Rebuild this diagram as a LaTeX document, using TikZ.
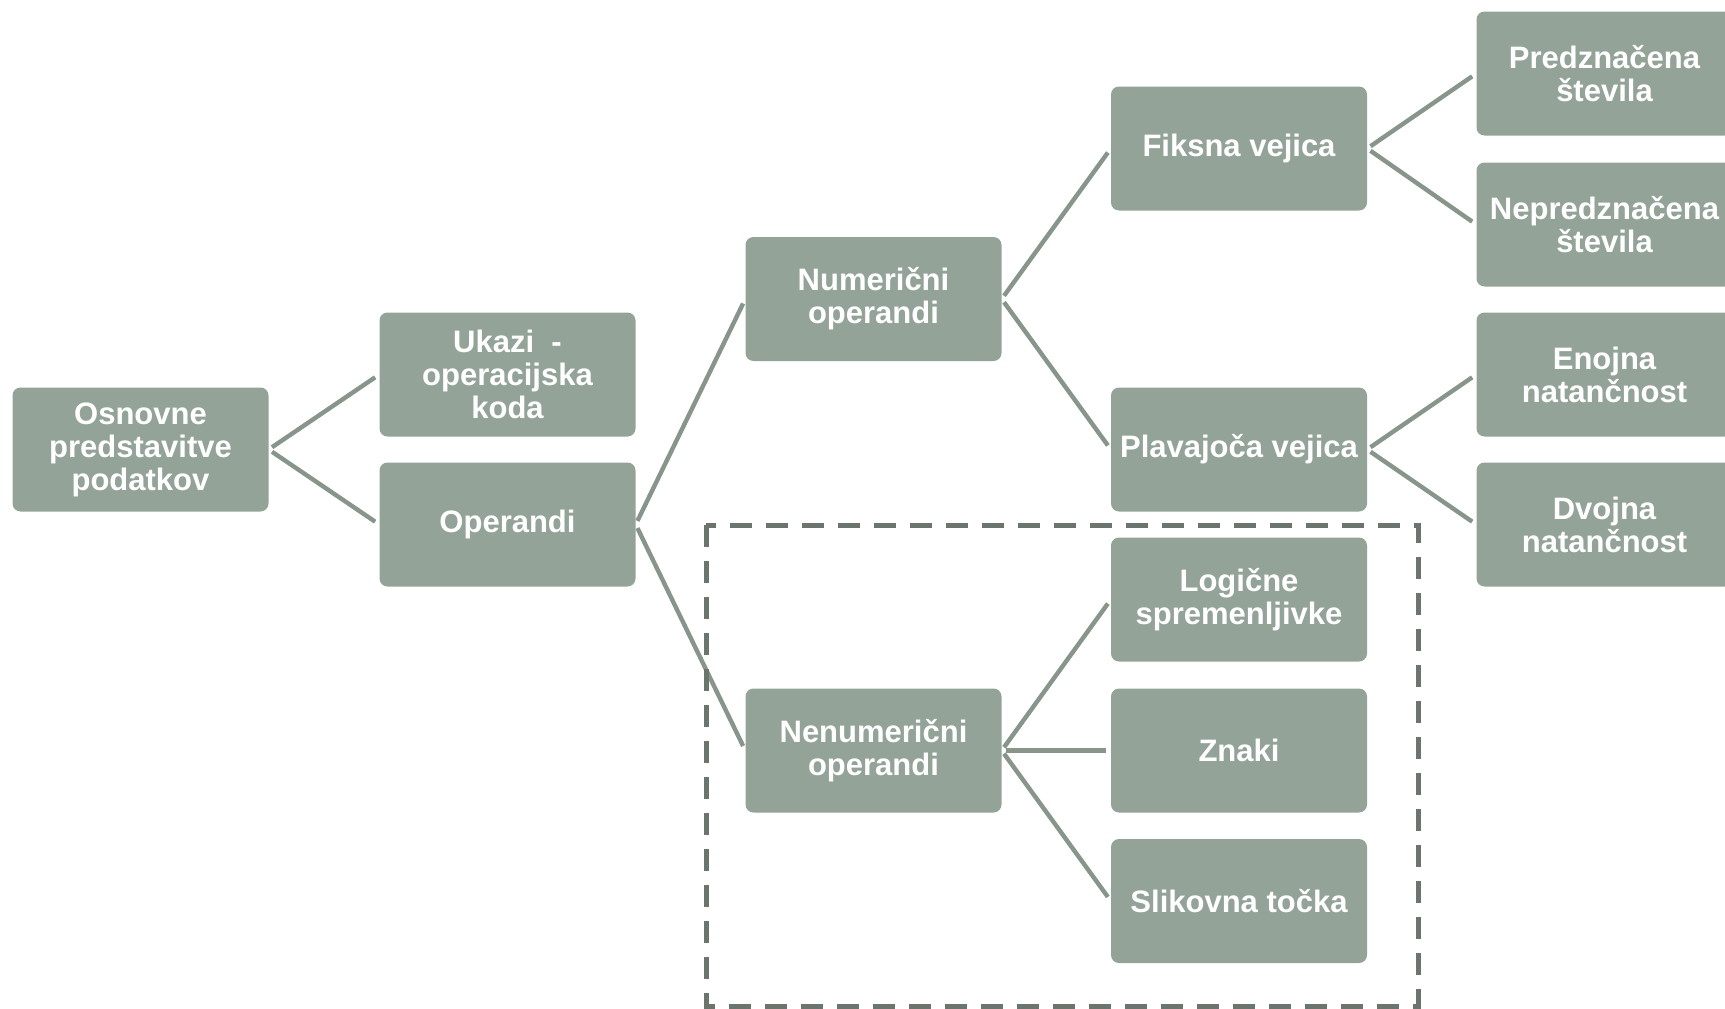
\documentclass[tikz,border=0pt]{standalone}
\usepackage{fontspec}
\setmainfont{Liberation Sans}
\begin{document}
\begin{tikzpicture}[x=1pt,y=-1pt,
  box/.style={draw=none, fill=boxfill, rounded corners=8pt, minimum width=256pt, minimum height=124pt,
    inner sep=0pt, align=center, text=white, font=\fontsize{31}{33}\selectfont\bfseries},
  conn/.style={draw=linec, line width=4.4pt, shorten <=4pt, shorten >=5pt},
  group/.style={draw=dashc, line width=5pt, dash pattern=on 22pt off 14pt}
]
\definecolor{boxfill}{HTML}{93A398}
\definecolor{linec}{HTML}{87958B}
\definecolor{dashc}{HTML}{6B756D}
\useasboundingbox (0,0) rectangle (1725,1009);
\clip (0,0) rectangle (1725,1009);
\node[box] (root) at (140.5,449.5) {Osnovne\\predstavitve\\podatkov};
\node[box] (ukazi) at (507.5,374.5) {Ukazi \ -\\operacijska\\koda};
\node[box] (oper) at (507.5,524.5) {Operandi};
\node[box] (num) at (873.5,299) {Numerični\\operandi};
\node[box] (nenum) at (873.5,750.5) {Nenumerični\\operandi};
\node[box] (fiks) at (1239,148.5) {Fiksna vejica};
\node[box] (plav) at (1239,449.5) {Plavajoča vejica};
\node[box] (log) at (1239,599.5) {Logične\\spremenljivke};
\node[box] (znaki) at (1239,750.5) {Znaki};
\node[box] (slik) at (1239,901) {Slikovna točka};
\node[box] (pred) at (1604.5,73.5) {Predznačena\\števila};
\node[box] (nepred) at (1604.5,224.5) {Nepredznačena\\števila};
\node[box] (enoj) at (1604.5,374.5) {Enojna\\natančnost};
\node[box] (dvoj) at (1604.5,524.5) {Dvojna\\natančnost};
\draw[conn] (root.east) -- (ukazi.west);
\draw[conn] (root.east) -- (oper.west);
\draw[conn] (oper.east) -- (num.west);
\draw[conn] (oper.east) -- (nenum.west);
\draw[conn] (num.east) -- (fiks.west);
\draw[conn] (num.east) -- (plav.west);
\draw[conn] (nenum.east) -- (log.west);
\draw[conn] (nenum.east) -- (znaki.west);
\draw[conn] (nenum.east) -- (slik.west);
\draw[conn] (fiks.east) -- (pred.west);
\draw[conn] (fiks.east) -- (nepred.west);
\draw[conn] (plav.east) -- (enoj.west);
\draw[conn] (plav.east) -- (dvoj.west);
\draw[group] (706,525) rectangle (1418,1006);
\end{tikzpicture}
\end{document}
